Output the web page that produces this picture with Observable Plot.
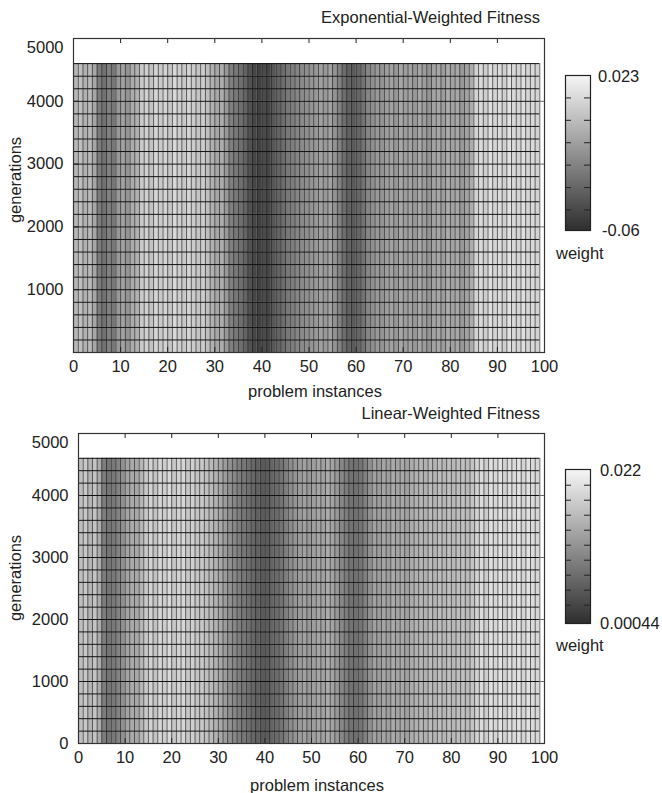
<!DOCTYPE html>
<html><head><meta charset="utf-8">
<script src="https://cdn.jsdelivr.net/npm/d3@7"></script>
<script src="https://cdn.jsdelivr.net/npm/@observablehq/plot@0.6"></script>
<style>
body{margin:0;background:#fff;font-family:"Liberation Sans",Arial,sans-serif;}
#root{position:relative;width:662px;height:793px;overflow:hidden;background:#fff}
.lbl{position:absolute;font-size:16.5px;color:#222;white-space:nowrap;line-height:1}
</style></head><body><div id="root"></div>
<script>
// generations at which the weights were sampled (row boundaries)
const generations = [0,200,400,600,800,1000,1200,1400,1600,1800,2000,2200,2400,2600,2800,3000,3200,3400,3600,3800,4000,4200,4400,4600];
// weights per problem-instance cell (99 cells spanning 0..99)
const expWeights = [
 -0.004,0.000,-0.006,-0.002,-0.010,
 -0.028,-0.032,-0.026,-0.030,
 -0.016,-0.012,-0.018,-0.008,-0.006,
 0.004,0.007,0.002,0.009,0.005,0.008,0.003,0.010,0.006,0.004,0.009,0.005,0.002,0.006,0.000,
 -0.006,-0.010,-0.008,-0.016,
 -0.026,-0.030,-0.033,-0.038,
 -0.045,-0.050,-0.052,-0.048,-0.050,-0.043,-0.038,
 -0.034,-0.030,-0.027,-0.024,-0.022,
 -0.020,-0.018,-0.016,-0.013,-0.016,-0.012,-0.018,
 -0.026,-0.034,-0.039,-0.042,-0.037,-0.031,-0.024,
 -0.020,-0.016,-0.018,-0.014,-0.012,-0.016,-0.010,-0.014,
 -0.012,-0.016,-0.010,-0.014,-0.018,-0.012,-0.010,-0.014,-0.008,-0.012,-0.010,-0.016,-0.012,-0.008,
 0.008,0.011,0.006,0.013,0.009,0.012,0.007,0.014,0.010,0.008,0.013,0.009,0.011,0.008
];
const linWeights = [
 0.0160,0.0170,0.0150,0.0165,0.0140,
 0.0090,0.0080,0.0085,0.0095,0.0110,
 0.0130,0.0140,0.0135,0.0150,
 0.0170,0.0180,0.0165,0.0185,0.0175,0.0188,0.0170,0.0180,0.0185,0.0170,0.0178,0.0165,0.0170,0.0160,0.0155,
 0.0145,0.0135,0.0122,0.0110,0.0100,
 0.0090,0.0082,0.0074,0.0066,0.0058,0.0052,0.0055,0.0062,0.0070,0.0080,0.0090,
 0.0105,0.0115,0.0122,0.0128,0.0118,0.0125,0.0132,0.0128,0.0138,0.0130,0.0118,
 0.0100,0.0088,0.0078,0.0074,0.0080,0.0092,0.0110,
 0.0128,0.0122,0.0132,0.0125,0.0138,0.0130,0.0136,0.0128,0.0140,0.0145,
 0.0150,0.0145,0.0155,0.0148,0.0158,0.0150,0.0160,0.0152,0.0158,0.0162,0.0155,0.0165,
 0.0180,0.0190,0.0175,0.0195,0.0185,0.0198,0.0180,0.0192,0.0188,0.0198,0.0182,0.0195,0.0190,0.0185
];
const xTicks = [0,10,20,30,40,50,60,70,80,90,100];
const yTicksTop = [1000,2000,3000,4000];
const yTicksBottom = [0,1000,2000,3000,4000];
const yTickMax = [5000];
const expRange = [-0.06, 0.023];
const linRange = [0.00044, 0.022];
const expBarTicks = [0.011,-0.001,-0.013,-0.025,-0.037,-0.049];
const linBarTicks = [0.0198,0.0177,0.0156,0.0135,0.0114,0.0093,0.0072,0.0051,0.0030];
const titles = ["Exponential-Weighted Fitness","Linear-Weighted Fitness"];

const FONT = '"Liberation Sans", Arial, sans-serif';
const DARK = "#2e2e2e", LIGHT = "#f7f7f7";
const root = document.getElementById("root");

function heat(weights, domain, yTicks, m) {
  const cells = [];
  weights.forEach((w, i) => {
    for (let j = 0; j < generations.length - 1; j++)
      cells.push({x1: i, x2: i + 1, y1: generations[j], y2: generations[j + 1], w});
  });
  const colEdges = weights.map((w, i) => i).concat([weights.length]);
  const gTop = generations[generations.length - 1];
  const fmt = d => String(d);
  return Plot.plot({
    width: 662, height: m.height,
    marginLeft: m.left, marginRight: m.right, marginTop: m.top, marginBottom: m.bottom,
    x: {domain: [0, 100], axis: null},
    y: {domain: [0, 5000], axis: null},
    color: {type: "linear", domain, range: [DARK, LIGHT], clamp: true},
    style: {fontFamily: FONT, fontSize: "16.5px", color: "#222", background: "transparent", overflow: "visible"},
    marks: [
      Plot.rect(cells, {x1: "x1", x2: "x2", y1: "y1", y2: "y2", fill: "w"}),
      Plot.ruleX(colEdges, {x: d => d, y1: 0, y2: gTop, stroke: "#1a1a1a", strokeWidth: 0.65}),
      Plot.ruleY(generations, {y: d => d, x1: 0, x2: weights.length, stroke: "#111", strokeWidth: 1}),
      Plot.ruleX(xTicks.slice(1, -1), {x: d => d, y1: 0, y2: 80, stroke: "#222"}),
      Plot.ruleX(xTicks.slice(1, -1), {x: d => d, y1: 5000, y2: 4920, stroke: "#222"}),
      Plot.ruleY(yTicks.filter(d => d > 0), {y: d => d, x1: 0, x2: 1.1, stroke: "#222"}),
      Plot.ruleY(yTicks.filter(d => d > 0), {y: d => d, x1: 98.9, x2: 100, stroke: "#666"}),
      Plot.frame({stroke: "#333", strokeWidth: 1.2}),
      Plot.axisX(xTicks, {anchor: "bottom", tickSize: 0, tickPadding: 8, tickFormat: fmt, fontSize: 16.5, fill: "#222"}),
      Plot.axisY(yTicks, {anchor: "left", tickSize: 0, tickPadding: 10, tickFormat: fmt, fontSize: 16.5, fill: "#222"}),
      Plot.axisY(yTickMax, {anchor: "left", tickSize: 0, tickPadding: 10, tickFormat: fmt, dy: 9, fontSize: 16.5, fill: "#222"})
    ]
  });
}

function bar(domain, ticks, h) {
  return Plot.plot({
    width: 25, height: h, margin: 0,
    x: {domain: [0, 1], axis: null},
    y: {domain, axis: null},
    color: {type: "linear", domain, range: [DARK, LIGHT]},
    style: {background: "transparent", overflow: "visible"},
    marks: [
      Plot.raster({x1: 0, x2: 1, y1: domain[0], y2: domain[1], width: 1, height: 200, fill: (x, y) => y, imageRendering: "auto"}),
      Plot.ruleY(ticks, {y: d => d, x1: 0, x2: 0.24, stroke: "#222"}),
      Plot.ruleY(ticks, {y: d => d, x1: 0.76, x2: 1, stroke: "#222"}),
      Plot.frame({stroke: "#222", strokeWidth: 1.2})
    ]
  });
}

function place(el, left, top) {
  el.style.position = "absolute"; el.style.left = left + "px"; el.style.top = top + "px";
  root.appendChild(el);
}
function label(text, x, y, anchor, rotate) {
  const d = document.createElement("div");
  d.className = "lbl"; d.textContent = text;
  d.style.left = x + "px"; d.style.top = y + "px";
  let tx = anchor === "end" ? "-100%" : anchor === "start" ? "0" : "-50%";
  d.style.transform = `translate(${tx},-50%)` + (rotate ? " rotate(-90deg)" : "");
  root.appendChild(d);
}

// top chart
place(heat(expWeights, expRange, yTicksTop, {height: 400, left: 73, right: 118, top: 38, bottom: 48}), 0, 0);
place(bar(expRange, expBarTicks, 155), 565, 75);
label(titles[0], 540, 17, "end");
label("problem instances", 315, 391, "middle");
label("generations", 15, 180, "middle", true);
label("0.023", 598, 76, "start");
label("-0.06", 602, 230, "start");
label("weight", 556, 253, "start");

// bottom chart
place(heat(linWeights, linRange, yTicksBottom, {height: 393, left: 78, right: 118, top: 33, bottom: 50}), 0, 400);
place(bar(linRange, linBarTicks, 154), 565, 469);
label(titles[1], 540, 413, "end");
label("problem instances", 317, 785, "middle");
label("generations", 15, 578, "middle", true);
label("0.022", 600, 470, "start");
label("0.00044", 600, 623, "start");
label("weight", 556, 645, "start");
</script></body></html>
